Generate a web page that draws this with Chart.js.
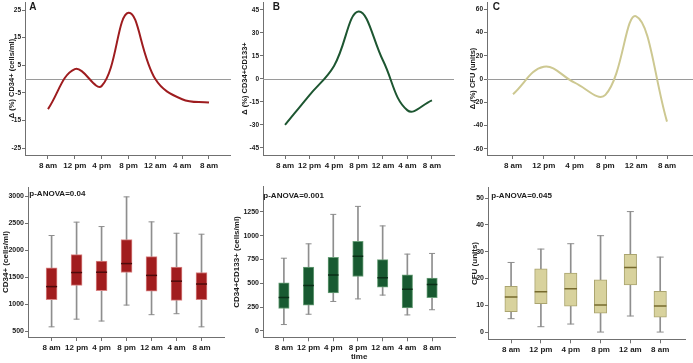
<!DOCTYPE html>
<html lang="en">
<head>
<meta charset="UTF-8" />
<title>Circadian variation of CD34+, CD34+CD133+ and CFU</title>
<script src="https://cdn.jsdelivr.net/npm/chart.js"></script>
<style>
  html, body { margin: 0; padding: 0; background: #fff; }
  body { width: 693px; height: 363px; position: relative; overflow: hidden; }
  .panel { position: absolute; }
  .panel canvas { display: block; }
</style>
</head>
<body>
  <div class="panel" style="left:0;top:0"><canvas id="chartA" width="231" height="175"></canvas></div>
  <div class="panel" style="left:231px;top:0"><canvas id="chartB" width="231" height="175"></canvas></div>
  <div class="panel" style="left:462px;top:0"><canvas id="chartC" width="231" height="175"></canvas></div>
  <div class="panel" style="left:0;top:180px"><canvas id="chartD" width="231" height="183"></canvas></div>
  <div class="panel" style="left:231px;top:180px"><canvas id="chartE" width="231" height="183"></canvas></div>
  <div class="panel" style="left:462px;top:180px"><canvas id="chartF" width="231" height="183"></canvas></div>

<script>
// time points
const timesDay = ['8 am', '12 pm', '4 pm', '8 pm', '12 am', '4 am', '8 am'];
const timesCfu = ['8 am', '12 pm', '4 pm', '8 pm', '12 am', '8 am'];

// % change from the 24h mean
const deltaCd34 = [-10.9, 3.6, -2.5, 24, 0, -7.3, -8.5];
const deltaCd133 = [-30, -10.5, 8.5, 44, 12, -20.5, -14];
const deltaCfu = [-13, 10.6, -3, -13.5, 54, -36.5];

const ticksDeltaCd34 = [-25, -15, -5, 5, 15, 25];
const ticksDeltaCd133 = [-45, -30, -15, 0, 15, 30, 45];
const ticksDeltaCfu = [-60, -40, -20, 0, 20, 40, 60];

// box plots: whisker ends, quartiles, median
const cd34Min = [583, 725, 690, 986, 808, 826, 583];
const cd34Q1 = [1087, 1353, 1252, 1590, 1246, 1075, 1087];
const cd34Median = [1329, 1590, 1596, 1756, 1537, 1430, 1377];
const cd34Q3 = [1679, 1922, 1803, 2200, 1886, 1691, 1590];
const cd34Max = [2277, 2525, 2443, 2994, 2530, 2319, 2301];

const cd133Min = [67, 175, 309, 336, 376, 168, 222];
const cd133Q1 = [235, 269, 400, 571, 460, 242, 350];
const cd133Median = [350, 477, 588, 783, 558, 437, 487];
const cd133Q3 = [504, 669, 773, 941, 749, 588, 554];
const cd133Max = [763, 914, 1223, 1307, 1102, 806, 813];

const cfuMin = [5, 2, 3, 0, 6, 0];
const cfuQ1 = [7.6, 10.6, 9.7, 7.1, 17.6, 5.6];
const cfuMedian = [13.1, 15.1, 16.2, 10.1, 24.1, 9.7];
const cfuQ3 = [17.1, 23.6, 22, 19.5, 29, 15.2];
const cfuMax = [26, 31, 33, 36, 45, 28];

const ticksCd34 = [500, 1000, 1500, 2000, 2500, 3000];
const ticksCd133 = [0, 250, 500, 750, 1000, 1250];
const ticksCfu = [0, 10, 20, 30, 40, 50];

const panelLetters = ['A', 'B', 'C'];
const anovaTexts = ['p-ANOVA=0.04', 'p-ANOVA=0.001', 'p-ANOVA=0.045'];

const fontFamily = 'Arial, "Liberation Sans", sans-serif';
const axisColor = '#707070';
const textColor = '#1a1a1a';
const whiskerColor = '#8e8e8e';

Chart.defaults.font.family = fontFamily;
Chart.defaults.color = textColor;

const xy = vals => vals.map((v, i) => ({ x: i, y: v }));
const span = (lo, hi) => lo.map((v, i) => ({ x: i, y: [v, hi[i]] }));

const zeroLine = {
  id: 'zeroLine',
  beforeDatasetsDraw(chart, args, opts) {
    const { ctx, chartArea, scales } = chart;
    const py = Math.round(scales.y.getPixelForValue(0)) + 0.5;
    ctx.save();
    ctx.strokeStyle = opts.color;
    ctx.lineWidth = 1;
    ctx.beginPath();
    ctx.moveTo(chartArea.left, py);
    ctx.lineTo(chartArea.right, py);
    ctx.stroke();
    ctx.restore();
  }
};

const caption = {
  id: 'caption',
  afterDraw(chart, args, opts) {
    const { ctx, chartArea } = chart;
    ctx.save();
    ctx.font = opts.font;
    ctx.fillStyle = textColor;
    ctx.textBaseline = 'alphabetic';
    ctx.fillText(opts.text, chartArea.left + opts.dx, chartArea.top + opts.dy);
    ctx.restore();
  }
};

function xAxis(labels, min, max, height, titleText) {
  return {
    type: 'linear', min, max, offset: false,
    afterBuildTicks: s => { s.ticks = labels.map((_, i) => ({ value: i })); },
    afterFit: s => { s.height = height; s.paddingLeft = 0; s.paddingRight = 0; },
    ticks: { callback: v => labels[v], font: { size: 8, weight: 'bold' }, color: textColor, padding: 2, maxRotation: 0, autoSkip: false },
    grid: { drawOnChartArea: false, drawTicks: true, tickLength: 4, color: axisColor, offset: false },
    border: { color: axisColor },
    title: { display: !!titleText, text: titleText, font: { size: 8, weight: 'bold' }, color: textColor, padding: { top: 0, bottom: 1 } }
  };
}

function yAxis(tickVals, min, max, width, titleText, titleSize, titlePad, tickSize) {
  return {
    type: 'linear', min, max,
    afterBuildTicks: s => { s.ticks = tickVals.map(v => ({ value: v })); },
    afterFit: s => { s.width = width; s.paddingTop = 0; s.paddingBottom = 0; },
    ticks: { callback: v => String(v), font: { size: tickSize, weight: 'bold' }, color: textColor, padding: 1 },
    grid: { drawOnChartArea: false, drawTicks: true, tickLength: 3, color: axisColor },
    border: { color: axisColor },
    title: { display: true, text: titleText, font: { size: titleSize, weight: 'bold' }, color: textColor, padding: { top: titlePad, bottom: 0 } }
  };
}

function curveChart(id, labels, values, color, y, x, letter, layoutPad) {
  return new Chart(document.getElementById(id), {
    type: 'line',
    data: {
      datasets: [{
        data: xy(values), borderColor: color, borderWidth: 2,
        pointRadius: 0, tension: 0.4, fill: false
      }]
    },
    options: {
      responsive: false, animation: false, events: [],
      layout: { padding: layoutPad },
      plugins: {
        legend: { display: false }, tooltip: { enabled: false },
        zeroLine: { color: '#9a9a9a' },
        caption: { text: letter.text, dx: letter.dx, dy: letter.dy, font: 'bold 10px ' + fontFamily }
      },
      scales: { x, y }
    },
    plugins: [zeroLine, caption]
  });
}

function boxChart(id, stats, style, y, x, note, layoutPad) {
  const [mins, q1, med, q3, maxs] = stats;
  return new Chart(document.getElementById(id), {
    type: 'bar',
    data: {
      datasets: [
        { type: 'line', data: xy(med), showLine: false, pointStyle: 'line', pointRadius: style.width / 2,
          pointBorderWidth: 1.5, pointBorderColor: style.median, order: 0 },
        { type: 'line', data: xy(mins).concat(xy(maxs)), showLine: false, pointStyle: 'line', pointRadius: style.cap,
          pointBorderWidth: 1, pointBorderColor: whiskerColor, order: 0 },
        { data: span(q1, q3), backgroundColor: style.fill, borderColor: style.edge, borderWidth: 1,
          borderSkipped: false, barThickness: style.width, grouped: false, order: 1 },
        { data: span(mins, maxs), backgroundColor: whiskerColor, borderWidth: 0,
          barThickness: 1, grouped: false, order: 2 }
      ]
    },
    options: {
      responsive: false, animation: false, events: [],
      layout: { padding: layoutPad },
      plugins: {
        legend: { display: false }, tooltip: { enabled: false },
        caption: { text: note.text, dx: note.dx, dy: note.dy, font: 'bold 8px ' + fontFamily }
      },
      scales: { x, y }
    },
    plugins: [caption]
  });
}

// top row: change curves
curveChart('chartA', timesDay, deltaCd34, '#9e1c1f',
  yAxis(ticksDeltaCd34, -27.5, 27.9, 25, 'Δ (%) CD34+ (cells/ml)', 7.5, 7, 6.5),
  xAxis(timesDay, -0.857, 6.82, 20),
  { text: panelLetters[0], dx: 4.3, dy: 8 }, { top: 2, right: 0 });

curveChart('chartB', timesDay, deltaCd133, '#1d5631',
  yAxis(ticksDeltaCd133, -49.6, 50.2, 32, 'Δ (%) CD34+CD133+', 7.5, 9, 6.5),
  xAxis(timesDay, -0.9, 6.9, 20),
  { text: panelLetters[1], dx: 9.7, dy: 8 }, { top: 2, right: 8 });

curveChart('chartC', timesCfu, deltaCfu, '#cdc891',
  yAxis(ticksDeltaCfu, -65.2, 66.3, 25, 'Δ (%) CFU (units)', 7.5, 6.5, 6.5),
  xAxis(timesCfu, -0.844, 5.844, 20),
  { text: panelLetters[2], dx: 5.7, dy: 8 }, { top: 2, right: 0 });

// bottom row: box plots
boxChart('chartD', [cd34Min, cd34Q1, cd34Median, cd34Q3, cd34Max],
  { fill: '#a11d1e', edge: '#d98484', median: '#4e0b0b', width: 11, cap: 3 },
  yAxis(ticksCd34, 394, 3177, 28, 'CD34+ (cells/ml)', 8, 0.5, 7),
  xAxis(timesDay, -0.944, 6.9, 26),
  { text: anovaTexts[0], dx: 1.3, dy: 8.7 }, { top: 0, right: 1 });

boxChart('chartE', [cd133Min, cd133Q1, cd133Median, cd133Q3, cd133Max],
  { fill: '#185a31', edge: '#6a9f79', median: '#0a2f17', width: 10.5, cap: 3 },
  yAxis(ticksCd133, -67, 1513, 32, 'CD34+CD133+ (cells/ml)', 8, 0.5, 7),
  xAxis(timesDay, -0.846, 6.94, 25.7, 'time'),
  { text: anovaTexts[1], dx: 0.3, dy: 11 }, { top: 1, right: 3 });

boxChart('chartF', [cfuMin, cfuQ1, cfuMedian, cfuQ3, cfuMax],
  { fill: '#d8d29d', edge: '#aaa46f', median: '#766a2e', width: 12.5, cap: 3.5 },
  yAxis(ticksCfu, -2.7, 53.9, 26, 'CFU (units)', 8, 8, 7),
  xAxis(timesCfu, -0.774, 5.84, 23.7),
  { text: anovaTexts[2], dx: 3.3, dy: 10 }, { top: 0, right: 0 });
</script>
</body>
</html>
